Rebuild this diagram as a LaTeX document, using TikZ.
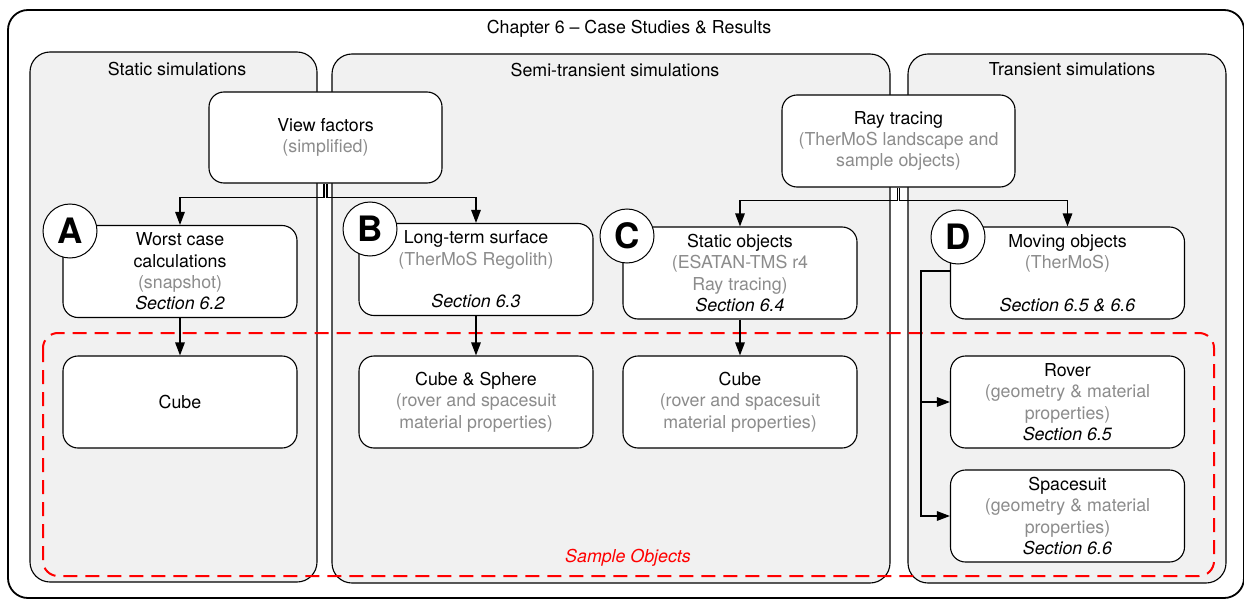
\documentclass[tikz,border=0pt]{standalone}
\usepackage{fontspec}
\setmainfont{TeX Gyre Heros}
\usepackage{tikz}
\usetikzlibrary{arrows.meta}

\definecolor{panelgray}{HTML}{F1F1F1}
\definecolor{subgray}{HTML}{8C8C8C}
\definecolor{samplered}{HTML}{FF0000}

\newcommand{\diagfont}{\fontsize{17.8pt}{21.4pt}\selectfont}
\newcommand{\sub}[1]{\textcolor{subgray}{#1}}

\begin{document}
\begin{tikzpicture}[x=1pt,y=-1pt,
    every node/.style={font=\diagfont},
    panel/.style={draw,fill=panelgray,rounded corners=20pt,line width=1.1pt},
    box/.style={draw,fill=white,rounded corners=15pt,line width=1.1pt,
      minimum width=234pt,minimum height=92pt,align=center,inner sep=0pt},
    tag/.style={draw,fill=white,circle,line width=1pt,minimum size=54pt,
      inner sep=0pt,font=\fontsize{35pt}{35pt}\selectfont\bfseries},
    link/.style={line width=1.4pt,-{Triangle[length=13pt,width=9.5pt]}},
  ]
  \useasboundingbox (0,0) rectangle (1244,599);

  % chapter frame
  \draw[line width=1.8pt,rounded corners=20pt] (8,10) rectangle (1244,598);
  \node (chapter) at (629,29) {Chapter 6 -- Case Studies \& Results};

  % simulation groups
  \draw[panel] (30,52) rectangle (317,582);
  \draw[panel] (332,54) rectangle (890,583);
  \draw[panel] (908,54) rectangle (1226,583);
  \node (static) at (177,69) {Static simulations};
  \node (semi) at (615,70) {Semi-transient simulations};
  \node (trans) at (1072,69) {Transient simulations};

  % sample objects
  \draw[samplered,line width=2pt,dash pattern=on 14pt off 8pt,rounded corners=15pt]
    (43,333) rectangle (1214,576);
  \node[samplered,font=\diagfont\itshape] (sample) at (628,558) {Sample Objects};

  % methods
  \node[box,minimum width=233pt,minimum height=91pt] (vf) at (325.5,137.5)
    {View factors\\\sub{(simplified)}};
  \node[box,minimum width=233pt] (ray) at (898.5,141)
    {Ray tracing\\\sub{(TherMoS landscape and}\\\sub{sample objects)}};

  % cases
  \node[box] (worst) at (180,271.5)
    {Worst case\\calculations\\\sub{(snapshot)}\\\textit{Section 6.2}};
  \node[box] (longterm) at (476,269.5)
    {Long-term surface\\\sub{(TherMoS Regolith)}\\\strut\\\textit{Section 6.3}};
  \node[box] (staticobj) at (740,273)
    {Static objects\\\sub{(ESATAN-TMS r4}\\\sub{Ray tracing)}\\\textit{Section 6.4}};
  \node[box] (moving) at (1067.5,273)
    {Moving objects\\\sub{(TherMoS)}\\\strut\\\textit{Section 6.5 \& 6.6}};

  % objects
  \node[box] (cubeA) at (180,402) {Cube};
  \node[box] (cubesphere) at (476,402)
    {Cube \& Sphere\\\sub{(rover and spacesuit}\\\sub{material properties)}};
  \node[box] (cubeC) at (740,402)
    {Cube\\\sub{(rover and spacesuit}\\\sub{material properties)}};
  \node[box] (rover) at (1067.5,402)
    {Rover\\\sub{(geometry \& material}\\\sub{properties)}\\\textit{Section 6.5}};
  \node[box] (spacesuit) at (1067.5,516)
    {Spacesuit\\\sub{(geometry \& material}\\\sub{properties)}\\\textit{Section 6.6}};

  % letters
  \node[tag] (tagA) at (70,231) {A};
  \node[tag] (tagB) at (370,229) {B};
  \node[tag] (tagC) at (627,236) {C};
  \node[tag] (tagD) at (958,237) {D};

  % links
  \draw[link] ([xshift=-1.5pt]vf.south) -- ++(0,14) -| (worst);
  \draw[link] ([xshift=1.5pt]vf.south) -- ++(0,14) -| (longterm);
  \draw[link] ([xshift=-1pt]ray.south) -- ++(0,13) -| (staticobj);
  \draw[link] ([xshift=1pt]ray.south) -- ++(0,13) -| (moving);
  \draw[link] (worst) -- (cubeA);
  \draw[link] (longterm) -- (cubesphere);
  \draw[link] (staticobj) -- (cubeC);
  \draw[link] ([yshift=2pt]moving.west) -- ++(-29,0) |- (rover);
  \draw[link] ([yshift=2pt]moving.west) -- ++(-29,0) |- (spacesuit);
\end{tikzpicture}
\end{document}
